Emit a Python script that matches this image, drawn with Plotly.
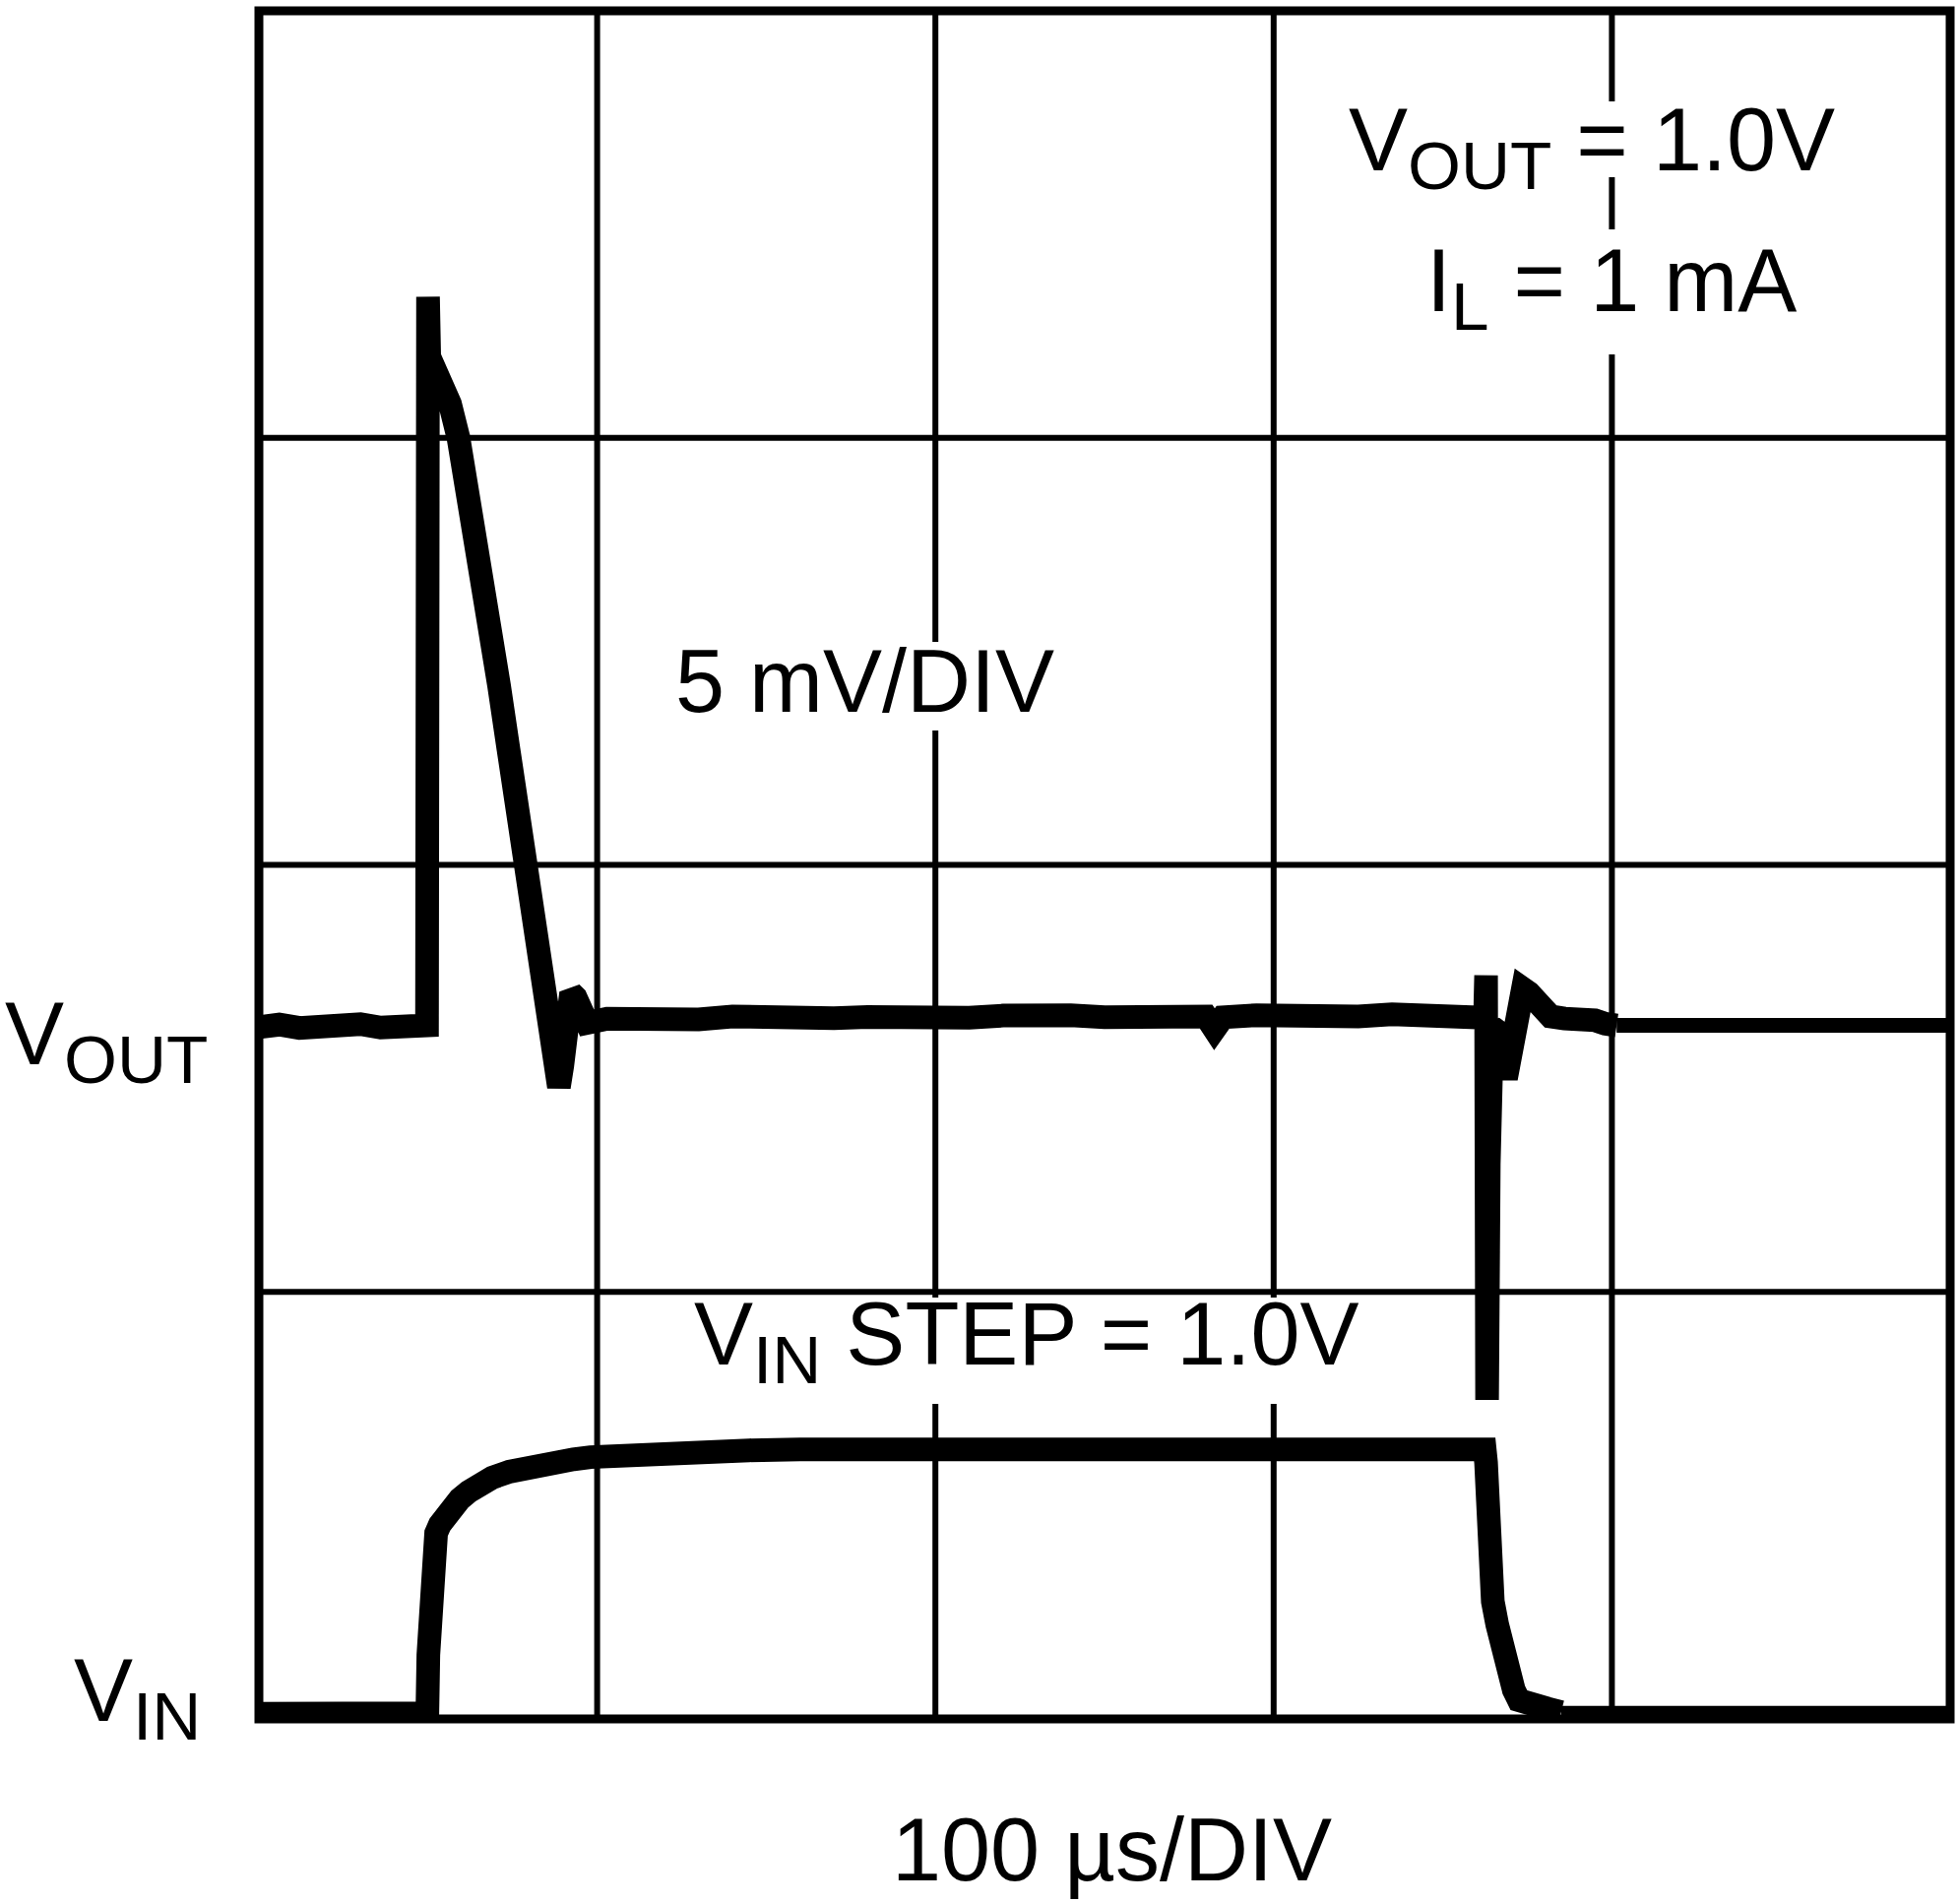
import plotly.graph_objects as go

# Horizontal: time in microseconds (100 us/DIV, 5 divisions)
# Vertical: oscilloscope screen divisions (4 divisions, bottom = 0)

vout_t = [0, 6, 12, 18, 24, 30, 36, 42, 47, 49.7, 50.0, 50.5, 52.6, 54.5, 56.5,
          59.0, 62.3, 65.2, 68.2, 71.0, 73.8, 76.5, 79.3, 82.0, 84.5, 86.0, 87.1,
          87.9, 88.7, 89.7, 91.0, 92.3, 93.6, 95.0, 97.0, 103, 110, 120, 130, 140,
          150, 160, 170, 180, 190, 200, 210, 220, 230, 240, 250, 260, 270, 280,
          282.5, 285, 295, 305, 315, 325, 335, 345, 355, 362.5, 362.8, 363.1,
          363.6, 364.6, 366.3, 368.7, 370.5, 372.2, 373.7, 375.5, 378.0, 381.9,
          386, 390, 395, 398, 401.4]
vout_div = [1.620, 1.626, 1.618, 1.624, 1.620, 1.627, 1.619, 1.625, 1.620, 1.624,
            3.33, 3.13, 3.15, 3.12, 3.08,
            3.00, 2.855, 2.71, 2.563, 2.42, 2.270, 2.13, 1.977, 1.83, 1.685, 1.60, 1.53,
            1.49, 1.48, 1.53, 1.65, 1.70, 1.69, 1.65, 1.630, 1.640, 1.636, 1.644,
            1.638, 1.645, 1.640, 1.646, 1.641, 1.644, 1.640, 1.645, 1.642, 1.647,
            1.641, 1.648, 1.643, 1.646, 1.642, 1.645,
            1.615, 1.643, 1.648, 1.644, 1.649, 1.645, 1.650, 1.646, 1.645, 1.642,
            1.741, 0.747,
            1.30, 1.62, 1.61, 1.50, 1.60, 1.69, 1.71, 1.70, 1.67, 1.645,
            1.640, 1.642, 1.636, 1.628, 1.624]

vout_tail_t = [401.4, 500]
vout_tail_div = [1.624, 1.624]

vin_t = [0, 10, 20, 30, 40, 49.8, 50.1, 50.4, 50.8, 51.5, 52.4, 53.5, 55.0, 57.0,
         59.4, 62.0, 65.0, 69.0, 74.0, 78.6, 83.0, 88.5, 93.0, 98.0, 105, 112,
         120, 130, 145, 160, 180, 200, 230, 260, 290, 320, 345, 362.4, 362.8,
         363.2, 363.8, 364.8, 366.1, 367.6, 369.3, 371.0, 372.5, 375.0, 377.5,
         381, 385]
vin_div = [0.012, 0.014, 0.011, 0.014, 0.012, 0.013, 0.15, 0.27, 0.35, 0.40, 0.435,
           0.455, 0.475, 0.495, 0.515, 0.532, 0.548, 0.565, 0.579, 0.589, 0.597,
           0.603, 0.608, 0.613, 0.617, 0.621, 0.624, 0.627, 0.629, 0.631, 0.632,
           0.633, 0.633, 0.632, 0.634, 0.633, 0.632, 0.631, 0.60, 0.49, 0.337,
           0.275, 0.221, 0.160, 0.106, 0.068, 0.044, 0.034, 0.030, 0.024, 0.016]

vin_tail_t = [385, 500]
vin_tail_div = [0.013, 0.013]

x_ticks = [0, 100, 200, 300, 400, 500]
y_ticks = [0, 1, 2, 3, 4]

W, H = 1990, 1934
ML, MR, MT, MB = 263, 9, 11, 188
PW = W - ML - MR
PH = H - MT - MB


def px(xp):
    return (xp - ML) / PW


def py(yp):
    return (H - MB - yp) / PH


FONT = "Liberation Sans, Arial, Helvetica, sans-serif"

fig = go.Figure()
fig.add_trace(go.Scatter(x=vout_t, y=vout_div, mode="lines",
                         line=dict(color="black", width=24), hoverinfo="skip"))
fig.add_trace(go.Scatter(x=vout_tail_t, y=vout_tail_div, mode="lines",
                         line=dict(color="black", width=15), hoverinfo="skip"))
fig.add_trace(go.Scatter(x=vin_t, y=vin_div, mode="lines",
                         line=dict(color="black", width=24), hoverinfo="skip"))
fig.add_trace(go.Scatter(x=vin_tail_t, y=vin_tail_div, mode="lines",
                         line=dict(color="black", width=15), hoverinfo="skip"))

axis_common = dict(showticklabels=False, ticks="", showgrid=False,
                   zeroline=False, showline=False, fixedrange=True)
fig.update_xaxes(range=[0, 500], tickvals=x_ticks, **axis_common)
fig.update_yaxes(range=[0, 4], tickvals=y_ticks, **axis_common)

shapes = []
# grid lines at the division ticks
for xv in x_ticks[1:-1]:
    shapes.append(dict(type="line", xref="x", yref="paper", layer="below",
                       x0=xv, x1=xv, y0=0, y1=1, line=dict(color="black", width=6)))
for yv in y_ticks[1:-1]:
    shapes.append(dict(type="line", xref="paper", yref="y", layer="below",
                       x0=0, x1=1, y0=yv, y1=yv, line=dict(color="black", width=6)))
# white masks behind the text (over the grid, under the traces)
for (x0, y0, x1, y1) in [(680, 652, 1078, 742),
                         (700, 1318, 1392, 1426),
                         (1360, 103, 1880, 180),
                         (1440, 233, 1840, 360)]:
    shapes.append(dict(type="rect", xref="paper", yref="paper", layer="below",
                       x0=px(x0), x1=px(x1), y0=py(y1), y1=py(y0),
                       fillcolor="white", line=dict(width=0)))
# frame
shapes.append(dict(type="rect", xref="paper", yref="paper", layer="above",
                   x0=0, x1=1, y0=0, y1=1, line=dict(color="black", width=9)))

SUB = "<sub><span style='font-size:110%'>{}</span></sub>"

annots = [
    ("V" + SUB.format("OUT") + " = 1.0V", 1617, 150, "center"),
    ("I" + SUB.format("L") + " = 1 mA", 1637, 293, "center"),
    ("5 mV/DIV", 878, 692, "center"),
    ("V" + SUB.format("IN") + " STEP = 1.0V", 1043, 1362, "center"),
    ("100 µs/DIV", 1129, 1879, "center"),
    ("V" + SUB.format("OUT"), 213, 1058, "right"),
    ("V" + SUB.format("IN"), 206, 1724, "right"),
]
annotations = []
for text, xp, yp, xa in annots:
    annotations.append(dict(text=text, xref="paper", yref="paper", x=px(xp), y=py(yp),
                            xanchor=xa, yanchor="middle", showarrow=False,
                            font=dict(family=FONT, size=90, color="black")))

fig.update_layout(width=W, height=H, margin=dict(l=ML, r=MR, t=MT, b=MB, pad=0),
                  paper_bgcolor="white", plot_bgcolor="white", showlegend=False,
                  shapes=shapes, annotations=annotations)

fig.write_html("out.html", config={"displayModeBar": False},
               post_script="document.body.style.margin='0';")
